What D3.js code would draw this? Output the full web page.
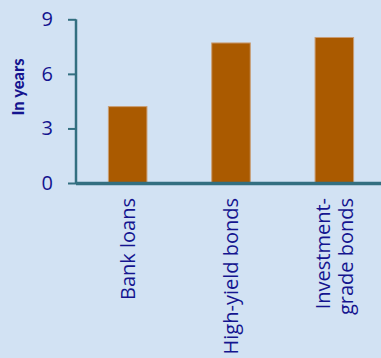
<!DOCTYPE html>
<html>
<head>
<meta charset="utf-8">
<script src="https://cdn.jsdelivr.net/npm/d3@7"></script>
<style>
  html, body { margin: 0; padding: 0; background: #d2e2f3; }
  svg { display: block; }
  text { font-family: "Open Sans", sans-serif; }
</style>
</head>
<body>
<svg id="chart" width="381" height="358"></svg>
<script>
// Average maturity by debt type
const categories = ["Bank loans", "High-yield bonds", "Investment-grade bonds"];
const categoryLines = [["Bank loans"], ["High-yield bonds"], ["Investment-", "grade bonds"]];
const years = [4.2, 7.7, 8.0];
const yTicks = [0, 3, 6, 9];

const W = 381, H = 358;
const navy = "#14148f";
const axisColor = "#336f80";
const barColor = "#aa5a00";

const svg = d3.select("#chart");
svg.append("rect").attr("width", W).attr("height", H).attr("fill", "#d2e2f3");

const x = d3.scaleBand()
  .domain(categories)
  .range([76, 386])
  .paddingInner(0.627)
  .paddingOuter(0.3135);

const y = d3.scaleLinear().domain([0, 9]).range([183, 19.3]);

// Bars
svg.append("g").selectAll("rect")
  .data(years)
  .join("rect")
  .attr("x", (d, i) => x(categories[i]))
  .attr("y", d => y(d))
  .attr("width", x.bandwidth())
  .attr("height", d => y(0) - y(d))
  .attr("fill", barColor)
  .attr("stroke", "#c99d74")
  .attr("stroke-width", 1);

// Y axis
const yAxis = svg.append("g")
  .attr("transform", "translate(76,0)")
  .call(d3.axisLeft(y).tickValues(yTicks).tickSize(8).tickPadding(15).tickFormat(d3.format("d")));
yAxis.select(".domain").attr("stroke", axisColor).attr("stroke-width", 2.5)
  .attr("d", `M0,${y(9)}V${y(0)}`);
yAxis.selectAll(".tick line").attr("stroke", axisColor).attr("stroke-width", 2);
yAxis.selectAll(".tick text")
  .attr("fill", navy)
  .style("font-size", "20px")
  .style("font-family", "'Open Sans', sans-serif");

// X axis baseline
svg.append("line")
  .attr("x1", 76).attr("x2", W)
  .attr("y1", y(0) + 0.5).attr("y2", y(0) + 0.5)
  .attr("stroke", axisColor)
  .attr("stroke-width", 3.5);

// Category labels, rotated
const labels = svg.append("g").selectAll("text")
  .data(categoryLines)
  .join("text")
  .attr("transform", (d, i) => {
    const cx = x(categories[i]) + x.bandwidth() / 2;
    return `translate(${cx},198) rotate(-90)`;
  })
  .attr("text-anchor", "end")
  .attr("fill", navy)
  .style("font-size", "20px");

labels.each(function(lines) {
  const t = d3.select(this);
  const lh = 22.5;
  const offset = -((lines.length - 1) * lh) / 2 + 7;
  lines.forEach((ln, k) => {
    t.append("tspan")
      .attr("x", 0)
      .attr("y", offset + k * lh)
      .text(ln);
  });
});

// Y axis title
svg.append("text")
  .attr("transform", "translate(23.5,87) rotate(-90)")
  .attr("text-anchor", "middle")
  .attr("fill", navy)
  .style("font-family", "Lato, sans-serif")
  .style("font-size", "16.5px")
  .style("font-weight", "900")
  .text("In years");
</script>
</body>
</html>
